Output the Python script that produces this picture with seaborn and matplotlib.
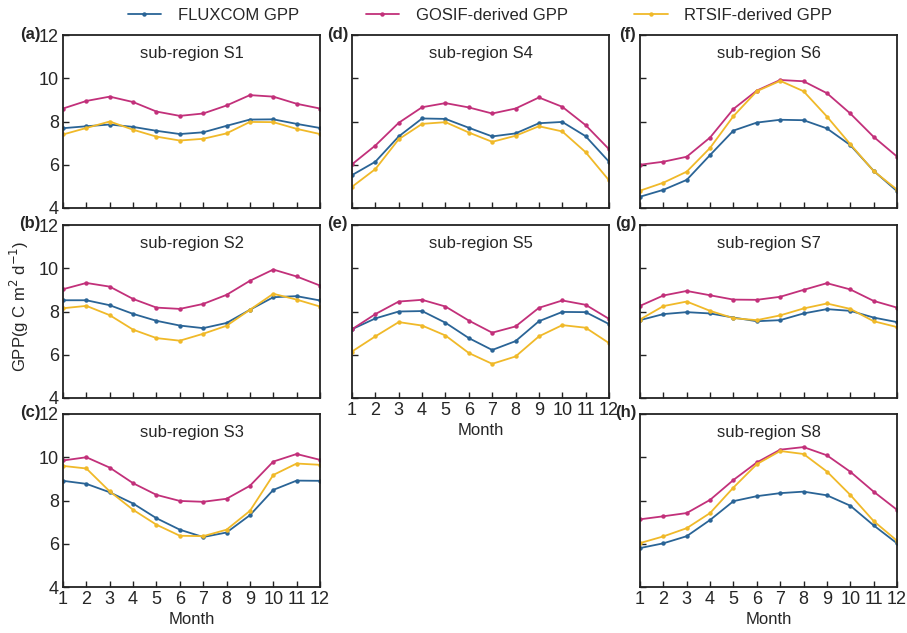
import numpy as np
import pandas as pd
import matplotlib
matplotlib.use("Agg")
import matplotlib.pyplot as plt
import seaborn as sns
from matplotlib.lines import Line2D

sns.set_theme(style="white")
plt.rcParams['font.family'] = ['Liberation Sans', 'DejaVu Sans']

months = list(range(1, 13))
products = ["FLUXCOM GPP", "GOSIF-derived GPP", "RTSIF-derived GPP"]
colors = ["#2a6496", "#c2307a", "#f0b929"]

panel_labels = ["(a)", "(b)", "(c)", "(d)", "(e)", "(f)", "(g)", "(h)"]
region_names = ["sub-region S1", "sub-region S2", "sub-region S3", "sub-region S4",
                "sub-region S5", "sub-region S6", "sub-region S7", "sub-region S8"]

# FLUXCOM, GOSIF, RTSIF per sub-region
S1_flux = [7.69, 7.78, 7.86, 7.75, 7.57, 7.42, 7.50, 7.80, 8.09, 8.10, 7.89, 7.70]
S1_gosif = [8.60, 8.95, 9.15, 8.90, 8.46, 8.26, 8.37, 8.74, 9.22, 9.15, 8.82, 8.60]
S1_rtsif = [7.40, 7.70, 8.00, 7.62, 7.30, 7.12, 7.20, 7.45, 7.98, 7.97, 7.66, 7.42]

S2_flux = [8.52, 8.52, 8.29, 7.89, 7.57, 7.35, 7.23, 7.47, 8.08, 8.66, 8.71, 8.51]
S2_gosif = [9.03, 9.32, 9.15, 8.58, 8.18, 8.12, 8.35, 8.77, 9.42, 9.94, 9.62, 9.20]
S2_rtsif = [8.15, 8.26, 7.83, 7.16, 6.77, 6.65, 6.97, 7.34, 8.08, 8.82, 8.55, 8.23]

S3_flux = [8.91, 8.77, 8.38, 7.86, 7.18, 6.65, 6.31, 6.52, 7.32, 8.49, 8.92, 8.91]
S3_gosif = [9.85, 10.00, 9.52, 8.80, 8.26, 7.98, 7.94, 8.08, 8.68, 9.80, 10.15, 9.88]
S3_rtsif = [9.60, 9.48, 8.42, 7.57, 6.88, 6.37, 6.35, 6.65, 7.52, 9.18, 9.71, 9.65]

S4_flux = [5.52, 6.14, 7.31, 8.14, 8.12, 7.71, 7.31, 7.45, 7.92, 7.98, 7.32, 6.14]
S4_gosif = [6.02, 6.89, 7.94, 8.66, 8.85, 8.65, 8.37, 8.60, 9.11, 8.68, 7.83, 6.72]
S4_rtsif = [4.98, 5.80, 7.18, 7.89, 7.97, 7.49, 7.06, 7.34, 7.78, 7.54, 6.58, 5.28]

S5_flux = [7.18, 7.68, 8.00, 8.02, 7.48, 6.77, 6.22, 6.63, 7.55, 7.98, 7.97, 7.42]
S5_gosif = [7.18, 7.88, 8.46, 8.54, 8.23, 7.58, 7.02, 7.31, 8.17, 8.51, 8.31, 7.66]
S5_rtsif = [6.15, 6.85, 7.51, 7.35, 6.89, 6.08, 5.58, 5.92, 6.85, 7.37, 7.25, 6.54]

S6_flux = [4.52, 4.84, 5.30, 6.45, 7.58, 7.95, 8.08, 8.06, 7.68, 6.91, 5.72, 4.78]
S6_gosif = [6.00, 6.14, 6.37, 7.26, 8.58, 9.43, 9.92, 9.86, 9.31, 8.37, 7.29, 6.38]
S6_rtsif = [4.80, 5.17, 5.68, 6.78, 8.25, 9.40, 9.88, 9.40, 8.23, 6.95, 5.71, 4.85]

S7_flux = [7.60, 7.88, 7.97, 7.91, 7.72, 7.55, 7.60, 7.91, 8.11, 8.03, 7.72, 7.51]
S7_gosif = [8.26, 8.74, 8.95, 8.75, 8.55, 8.54, 8.68, 9.00, 9.31, 9.02, 8.49, 8.18]
S7_rtsif = [7.63, 8.25, 8.46, 8.03, 7.69, 7.60, 7.82, 8.14, 8.37, 8.12, 7.55, 7.28]

S8_flux = [5.80, 6.02, 6.35, 7.10, 7.97, 8.20, 8.34, 8.41, 8.24, 7.76, 6.85, 6.02]
S8_gosif = [7.13, 7.27, 7.42, 8.03, 8.95, 9.76, 10.35, 10.47, 10.09, 9.33, 8.41, 7.57]
S8_rtsif = [6.03, 6.34, 6.72, 7.42, 8.60, 9.68, 10.29, 10.15, 9.34, 8.26, 7.05, 6.14]

series = [
    (S1_flux, S1_gosif, S1_rtsif), (S2_flux, S2_gosif, S2_rtsif), (S3_flux, S3_gosif, S3_rtsif),
    (S4_flux, S4_gosif, S4_rtsif), (S5_flux, S5_gosif, S5_rtsif), (S6_flux, S6_gosif, S6_rtsif),
    (S7_flux, S7_gosif, S7_rtsif), (S8_flux, S8_gosif, S8_rtsif),
]

W, H = 907, 633
fig = plt.figure(figsize=(W / 100, H / 100), dpi=100)

col_left = [63, 352, 640]
ax_w = 257
row_top = [35, 225, 414]
ax_h = 173

# (col, row) for each panel
positions = [(0, 0), (0, 1), (0, 2), (1, 0), (1, 1), (2, 0), (2, 1), (2, 2)]
xlabel_panels = {2, 4, 7}

for i, (c, r) in enumerate(positions):
    left = col_left[c] / W
    bottom = 1 - (row_top[r] + ax_h) / H
    ax = fig.add_axes([left, bottom, ax_w / W, ax_h / H])
    fl, go, rt = series[i]
    df = pd.DataFrame({
        "Month": months * 3,
        "GPP": list(fl) + list(go) + list(rt),
        "Product": [products[0]] * 12 + [products[1]] * 12 + [products[2]] * 12,
    })
    sns.lineplot(data=df, x="Month", y="GPP", hue="Product", hue_order=products,
                 palette=colors, marker="o", markersize=3.2, markeredgewidth=0,
                 linewidth=1.3, legend=False, ax=ax)
    ax.set_xlim(1, 12)
    ax.set_ylim(4, 12)
    ax.set_xticks(months)
    ax.set_yticks([4, 6, 8, 10, 12])
    ax.tick_params(direction="in", length=4.5, width=1.0, color="#222222",
                   top=False, right=False, left=True, bottom=True,
                   labelsize=13, pad=3)
    for sp in ax.spines.values():
        sp.set_linewidth(1.3)
        sp.set_color("#222222")
    if c != 0:
        ax.set_yticklabels([])
    if i in xlabel_panels:
        ax.set_xlabel("Month", fontsize=12, labelpad=3)
    else:
        ax.set_xticklabels([])
        ax.set_xlabel("")
    ax.set_ylabel("")
    ax.text(0.5, 0.893, region_names[i], transform=ax.transAxes,
            ha="center", va="center", fontsize=12)
    lab_x = [41, 348, 636][c]
    fig.text(lab_x / W, 1 - (row_top[r] - 1) / H, panel_labels[i],
             ha="right", va="center", fontsize=12, fontweight="bold")

fig.text(19 / W, 1 - 306 / H, r"GPP(g C m$^2$ d$^{-1}$)", rotation=90,
         ha="center", va="center", fontsize=12)

handles = [Line2D([0], [0], color=col, lw=1.3, marker="o", markersize=3.2,
                  markeredgewidth=0) for col in colors]
fig.legend(handles, products, loc="center", bbox_to_anchor=(480 / W, 1 - 15 / H),
           ncol=3, frameon=False, fontsize=12, handlelength=2.0,
           handletextpad=1.0, columnspacing=4.0)

fig.savefig("out.png", dpi=100)
